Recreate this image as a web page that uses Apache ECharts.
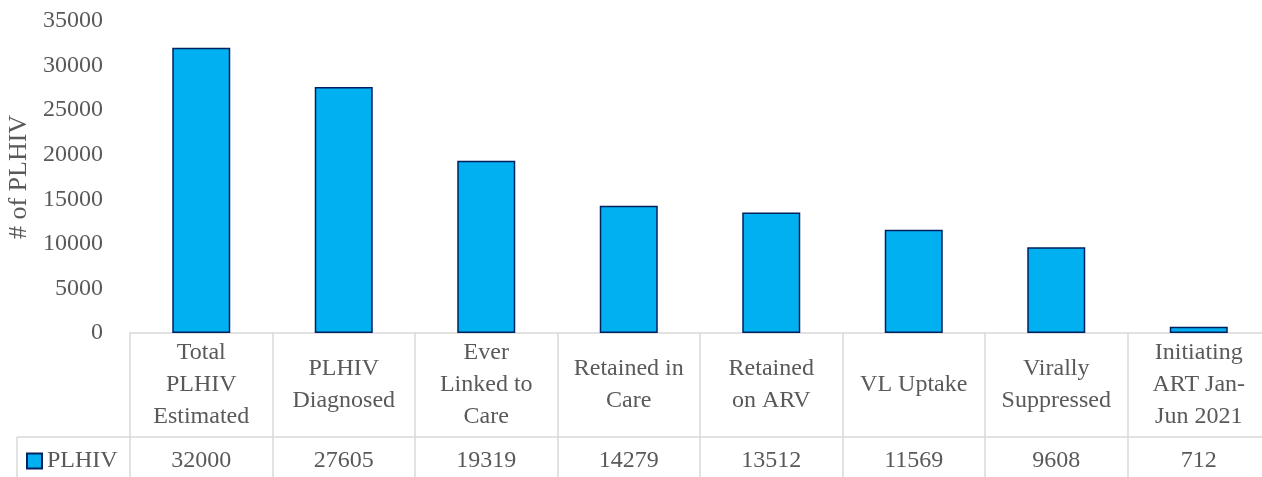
<!DOCTYPE html>
<html>
<head>
<meta charset="utf-8">
<script src="https://cdn.jsdelivr.net/npm/echarts@6/dist/echarts.min.js"></script>
<style>
  html, body { margin: 0; padding: 0; background: #fff; }
  #main { width: 1262px; height: 477px; }
</style>
</head>
<body>
<div id="main"></div>
<script>
// chart data
let categories = ['Total\nPLHIV\nEstimated', 'PLHIV\nDiagnosed', 'Ever\nLinked to\nCare', 'Retained in\nCare',
    'Retained\non ARV', 'VL Uptake', 'Virally\nSuppressed', 'Initiating\nART Jan-\nJun 2021'];
let plhivValues = [32000, 27605, 19319, 14279, 13512, 11569, 9608, 712];
let seriesName = 'PLHIV';
let yTicks = [0, 5000, 10000, 15000, 20000, 25000, 30000, 35000];

const FONT = 'Liberation Serif';
const TEXT = '#595959';
const LINE = '#d9d9d9';

var chart = echarts.init(document.getElementById('main'));

option = {
    animation: false,
    textStyle: { fontFamily: FONT },
    grid: { left: 130, right: -8, top: 21, bottom: 144, containLabel: false, outerBoundsMode: 'none' },
    legend: {
        data: [seriesName],
        left: 26,
        top: 449,
        padding: 0,
        icon: 'rect',
        itemWidth: 15,
        itemHeight: 15,
        itemGap: 6,
        textStyle: { fontFamily: FONT, fontSize: 24, color: TEXT }
    },
    xAxis: [
        {
            // category labels row of the data table
            type: 'category',
            data: categories,
            axisLine: { show: true, lineStyle: { color: LINE, width: 1.5 } },
            axisTick: { show: true, length: 144, lineStyle: { color: LINE, width: 1.5 } },
            axisLabel: {
                interval: 0,
                margin: 52,
                verticalAlign: 'middle',
                fontFamily: FONT,
                fontSize: 24,
                lineHeight: 32,
                color: TEXT
            }
        },
        {
            // values row of the data table
            type: 'category',
            data: plhivValues.map(String),
            position: 'bottom',
            offset: 104,
            axisLine: { show: true, lineStyle: { color: LINE, width: 1.5 } },
            axisTick: { show: false },
            axisLabel: {
                interval: 0,
                margin: 24,
                verticalAlign: 'middle',
                fontFamily: FONT,
                fontSize: 24,
                color: TEXT
            }
        }
    ],
    yAxis: {
        type: 'value',
        min: yTicks[0],
        max: yTicks[yTicks.length - 1],
        interval: 5000,
        name: '# of PLHIV',
        nameLocation: 'middle',
        nameGap: 92,
        nameTextStyle: { fontFamily: FONT, fontSize: 26, color: TEXT },
        axisLine: { show: false },
        axisTick: { show: false },
        splitLine: { show: false },
        axisLabel: {
            margin: 27,
            fontFamily: FONT,
            fontSize: 24,
            color: TEXT,
            formatter: function (v) { return String(v); }
        }
    },
    graphic: [
        // left part of the table frame (legend key cell)
        { type: 'line', shape: { x1: 17, y1: 437, x2: 130, y2: 437 }, style: { stroke: LINE, lineWidth: 1.5 } },
        { type: 'line', shape: { x1: 17, y1: 437, x2: 17, y2: 477 }, style: { stroke: LINE, lineWidth: 1.5 } }
    ],
    series: [
        {
            name: seriesName,
            type: 'bar',
            xAxisIndex: 0,
            barWidth: 58,
            data: plhivValues,
            itemStyle: { color: '#00B0F0', borderColor: '#002060', borderWidth: 1.5 }
        }
    ]
};

chart.setOption(option);
</script>
</body>
</html>
